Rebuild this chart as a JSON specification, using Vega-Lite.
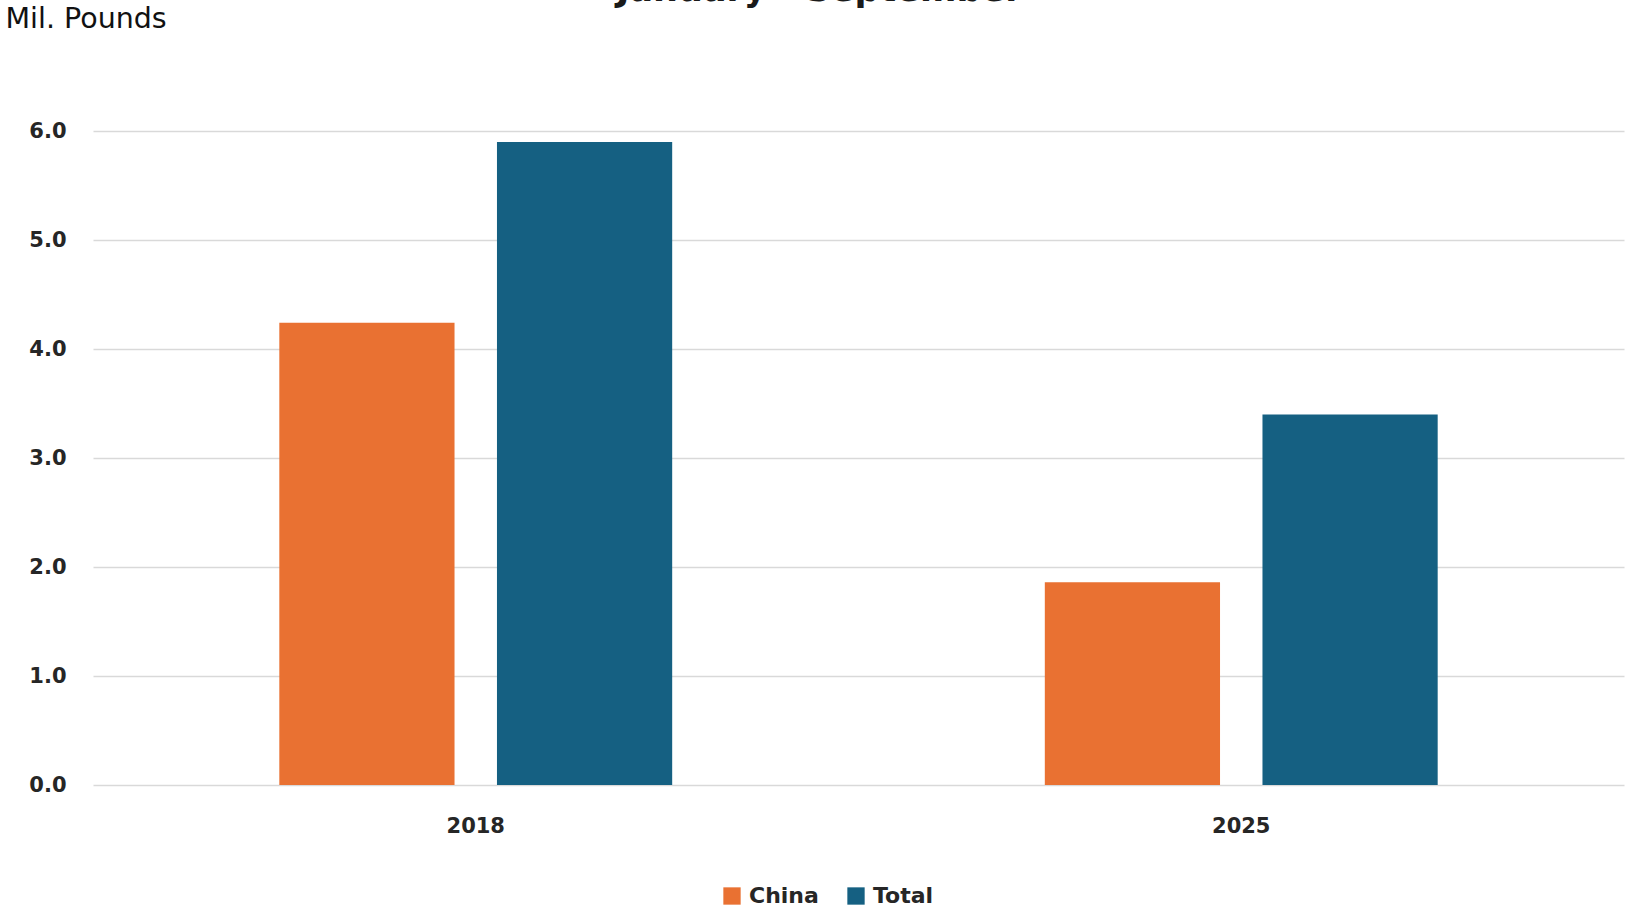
{
  "$schema": "https://vega.github.io/schema/vega-lite/v6.json",
  "autosize": "none",
  "width": 1531,
  "height": 654,
  "padding": {"left": 93, "top": 131, "right": 2, "bottom": 123},
  "background": "white",
  "title": {
    "text": "January - September",
    "font": "DejaVu Sans",
    "fontSize": 35,
    "fontWeight": "bold",
    "color": "#1a1a1a",
    "anchor": "middle",
    "frame": "group",
    "baseline": "alphabetic",
    "offset": 1,
    "dx": -39,
    "dy": 33
  },
  "data": {
    "values": [
      {"year": "2018", "series": "China", "value": 4.24},
      {"year": "2018", "series": "Total", "value": 5.9},
      {"year": "2025", "series": "China", "value": 1.86},
      {"year": "2025", "series": "Total", "value": 3.4}
    ]
  },
  "mark": {"type": "bar"},
  "encoding": {
    "x": {
      "field": "year",
      "type": "nominal",
      "scale": {"paddingInner": 0, "paddingOuter": 0},
      "axis": {
        "title": null,
        "labelAngle": 0,
        "labelFont": "DejaVu Sans",
        "labelFontSize": 21,
        "labelFontWeight": "bold",
        "labelColor": "#262626",
        "labelPadding": 30,
        "ticks": false,
        "domain": false,
        "grid": false
      }
    },
    "xOffset": {
      "field": "series",
      "type": "nominal",
      "scale": {"paddingInner": 0.195, "paddingOuter": 0.856}
    },
    "y": {
      "field": "value",
      "type": "quantitative",
      "scale": {"domain": [0, 6], "nice": false},
      "axis": {
        "title": "Mil. Pounds",
        "titleAngle": 0,
        "titleAlign": "left",
        "titleBaseline": "alphabetic",
        "titleX": -88,
        "titleY": -104,
        "titleFont": "DejaVu Sans",
        "titleFontSize": 28.5,
        "titleFontWeight": "normal",
        "titleColor": "#111111",
        "values": [0, 1, 2, 3, 4, 5, 6],
        "format": ".1f",
        "labelFont": "DejaVu Sans",
        "labelFontSize": 21,
        "labelFontWeight": "bold",
        "labelColor": "#262626",
        "labelPadding": 27,
        "ticks": false,
        "domain": false,
        "grid": true,
        "gridColor": "#d9d9d9",
        "gridWidth": 1.5
      }
    },
    "color": {
      "field": "series",
      "type": "nominal",
      "scale": {"domain": ["China", "Total"], "range": ["#E97132", "#156082"]},
      "legend": {
        "title": null,
        "orient": "none",
        "direction": "horizontal",
        "legendX": 628,
        "legendY": 754,
        "symbolType": "square",
        "symbolSize": 300,
        "symbolStrokeWidth": 0,
        "symbolOpacity": 1,
        "labelFont": "DejaVu Sans",
        "labelFontSize": 22,
        "labelFontWeight": "bold",
        "labelColor": "#262626",
        "labelOffset": 6,
        "columnPadding": 26
      }
    }
  },
  "config": {
    "view": {"stroke": null}
  }
}
